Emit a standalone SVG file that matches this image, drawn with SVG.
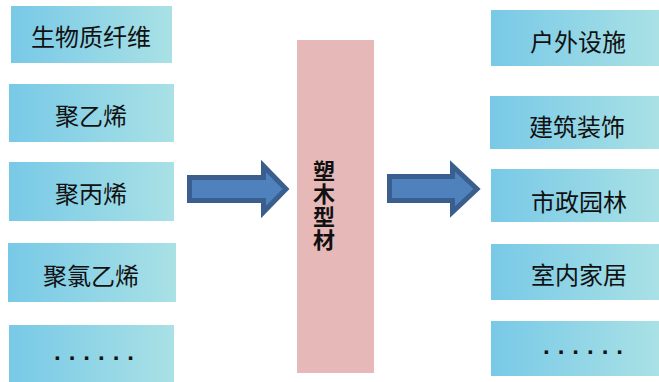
<svg xmlns="http://www.w3.org/2000/svg" width="659" height="382" viewBox="0 0 659 382">
<defs>
<linearGradient id="g" x1="0" y1="0" x2="1" y2="0">
<stop offset="0" stop-color="#78c9e7"/>
<stop offset="1" stop-color="#a9e1e5"/>
</linearGradient>
</defs>
<style>
.box{fill:url(#g)}
.t{font-family:"Noto Sans CJK SC","Liberation Sans",sans-serif;font-size:24px;fill:#111;text-anchor:middle}
.d{font-family:"Liberation Sans",sans-serif;font-size:24px;font-weight:bold;fill:#111;letter-spacing:8px}
.arr{fill:#4f81bd;stroke:#3a5f8e;stroke-width:5;stroke-linejoin:miter}
.c{font-family:"Noto Sans CJK SC",sans-serif;font-size:22px;font-weight:bold;fill:#111;text-anchor:middle;writing-mode:vertical-rl;letter-spacing:1px}
</style>
<rect width="659" height="382" fill="#fff"/>
<g id="left1"><rect class="box" x="11" y="6" width="161" height="57"/><text class="t" x="91" y="46">生物质纤维</text></g>
<g id="left2"><rect class="box" x="9" y="84" width="165" height="58"/><text class="t" x="91" y="125">聚乙烯</text></g>
<g id="left3"><rect class="box" x="9" y="162" width="165" height="59"/><text class="t" x="91" y="203">聚丙烯</text></g>
<g id="left4"><rect class="box" x="8" y="243" width="168" height="59"/><text class="t" x="91" y="285">聚氯乙烯</text></g>
<g id="left5"><rect class="box" x="9" y="325" width="165" height="57"/><text class="d" x="54" y="360">......</text></g>
<g id="center"><rect x="297" y="40" width="77" height="333" fill="#e6b9b8"/>
<text class="c" x="324" y="206">塑木型材</text></g>
<g id="right1"><rect class="box" x="491" y="10" width="168" height="56"/><text class="t" x="578" y="51">户外设施</text></g>
<g id="right2"><rect class="box" x="490" y="96" width="169" height="53"/><text class="t" x="577" y="136">建筑装饰</text></g>
<g id="right3"><rect class="box" x="491" y="169" width="168" height="53"/><text class="t" x="579" y="211">市政园林</text></g>
<g id="right4"><rect class="box" x="491" y="244" width="168" height="56"/><text class="t" x="579" y="284">室内家居</text></g>
<g id="right5"><rect class="box" x="491" y="321" width="168" height="55"/><text class="d" x="543" y="354">......</text></g>
<g id="connectors">
<polygon class="arr" points="189.5,177.5 263.5,177.5 263.5,166 286,189 263.5,212 263.5,200.5 189.5,200.5"/>
<polygon class="arr" points="389.5,176.5 452.5,176.5 452.5,166 477,189 452.5,212 452.5,200.5 389.5,200.5"/>
</g>
</svg>
